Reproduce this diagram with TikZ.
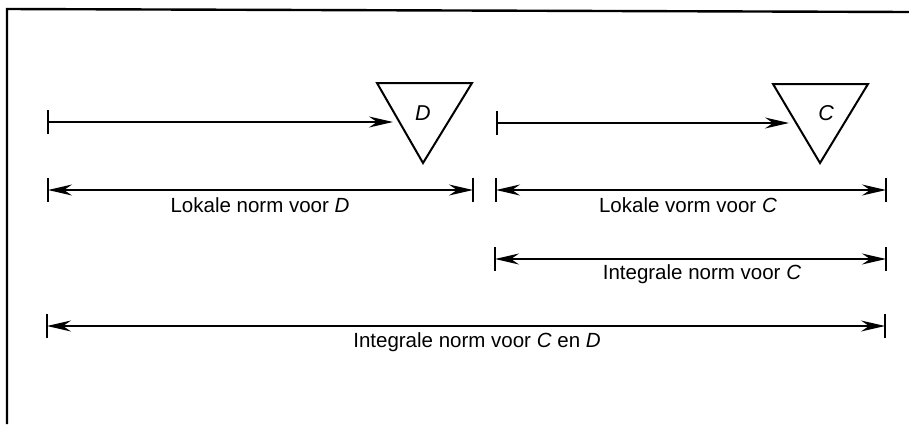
\documentclass[tikz,border=0pt]{standalone}
\usepackage{fontspec}
\setmainfont{Liberation Sans}
\usetikzlibrary{arrows.meta}
\tikzset{
  tip/.tip={Stealth[length=24pt,width=11pt,inset=8pt]},
  dim/.style={line width=1.5pt},
  bar/.style={line width=2.1pt},
  frame/.style={line width=2.4pt},
  tri/.style={line width=2pt, line join=miter},
  lbl/.style={font=\fontsize{20.5}{24}\selectfont, anchor=base, inner sep=0pt},
  letter/.style={font=\fontsize{21.5}{24}\selectfont\itshape, inner sep=0pt},
}
\newcommand{\tickbar}[1]{\draw[bar] ([yshift=-12pt]#1) -- ([yshift=12pt]#1);}
\begin{document}
\begin{tikzpicture}[x=1pt,y=-1pt]
\useasboundingbox (0,0) rectangle (909,424);
\fill[white] (0,0) rectangle (909,424);

% outer frame (top and left edges)
\draw[frame] (7,424) -- (7,9) -- (909,12);

% triangles for D and C
\coordinate (dA) at (377,83);
\coordinate (dB) at (472,83);
\coordinate (dC) at (423,163);
\draw[tri] (dA) -- (dB) -- (dC) -- cycle;
\node[letter] (dl) at (423,113) {D};

\coordinate (cA) at (773,84);
\coordinate (cB) at (868,84);
\coordinate (cC) at (820,163);
\draw[tri] (cA) -- (cB) -- (cC) -- cycle;
\node[letter] (cl) at (826,113) {C};

% row 1: arrows towards the triangles
\coordinate (r1a) at (48,122);
\coordinate (r1b) at (393,122);
\coordinate (r1c) at (497,123);
\coordinate (r1d) at (789,123);
\tickbar{r1a}
\tickbar{r1c}
\draw[dim,-tip] (r1a) -- (r1b);
\draw[dim,-tip] (r1c) -- (r1d);

% row 2: local norms
\coordinate (r2a) at (48,190);
\coordinate (r2b) at (473,190);
\coordinate (r2c) at (496,190);
\coordinate (r2d) at (886,190);
\foreach \p in {r2a,r2b,r2c,r2d} {\tickbar{\p}}
\draw[dim,tip-tip] (r2a) -- (r2b);
\draw[dim,tip-tip] (r2c) -- (r2d);
\node[lbl] (t2a) at (260,212) {Lokale norm voor \textit{D}};
\node[lbl] (t2b) at (688,212) {Lokale vorm voor \textit{C}};

% row 3: integral norm for C
\coordinate (r3a) at (495,259);
\coordinate (r3b) at (886,259);
\tickbar{r3a}
\tickbar{r3b}
\draw[dim,tip-tip] (r3a) -- (r3b);
\node[lbl] (t3) at (702,279) {Integrale norm voor \textit{C}};

% row 4: integral norm for C and D
\coordinate (r4a) at (47,326);
\coordinate (r4b) at (885,326);
\tickbar{r4a}
\tickbar{r4b}
\draw[dim,tip-tip] (r4a) -- (r4b);
\node[lbl] (t4) at (477,347) {Integrale norm voor \textit{C} en \textit{D}};
\end{tikzpicture}
\end{document}
